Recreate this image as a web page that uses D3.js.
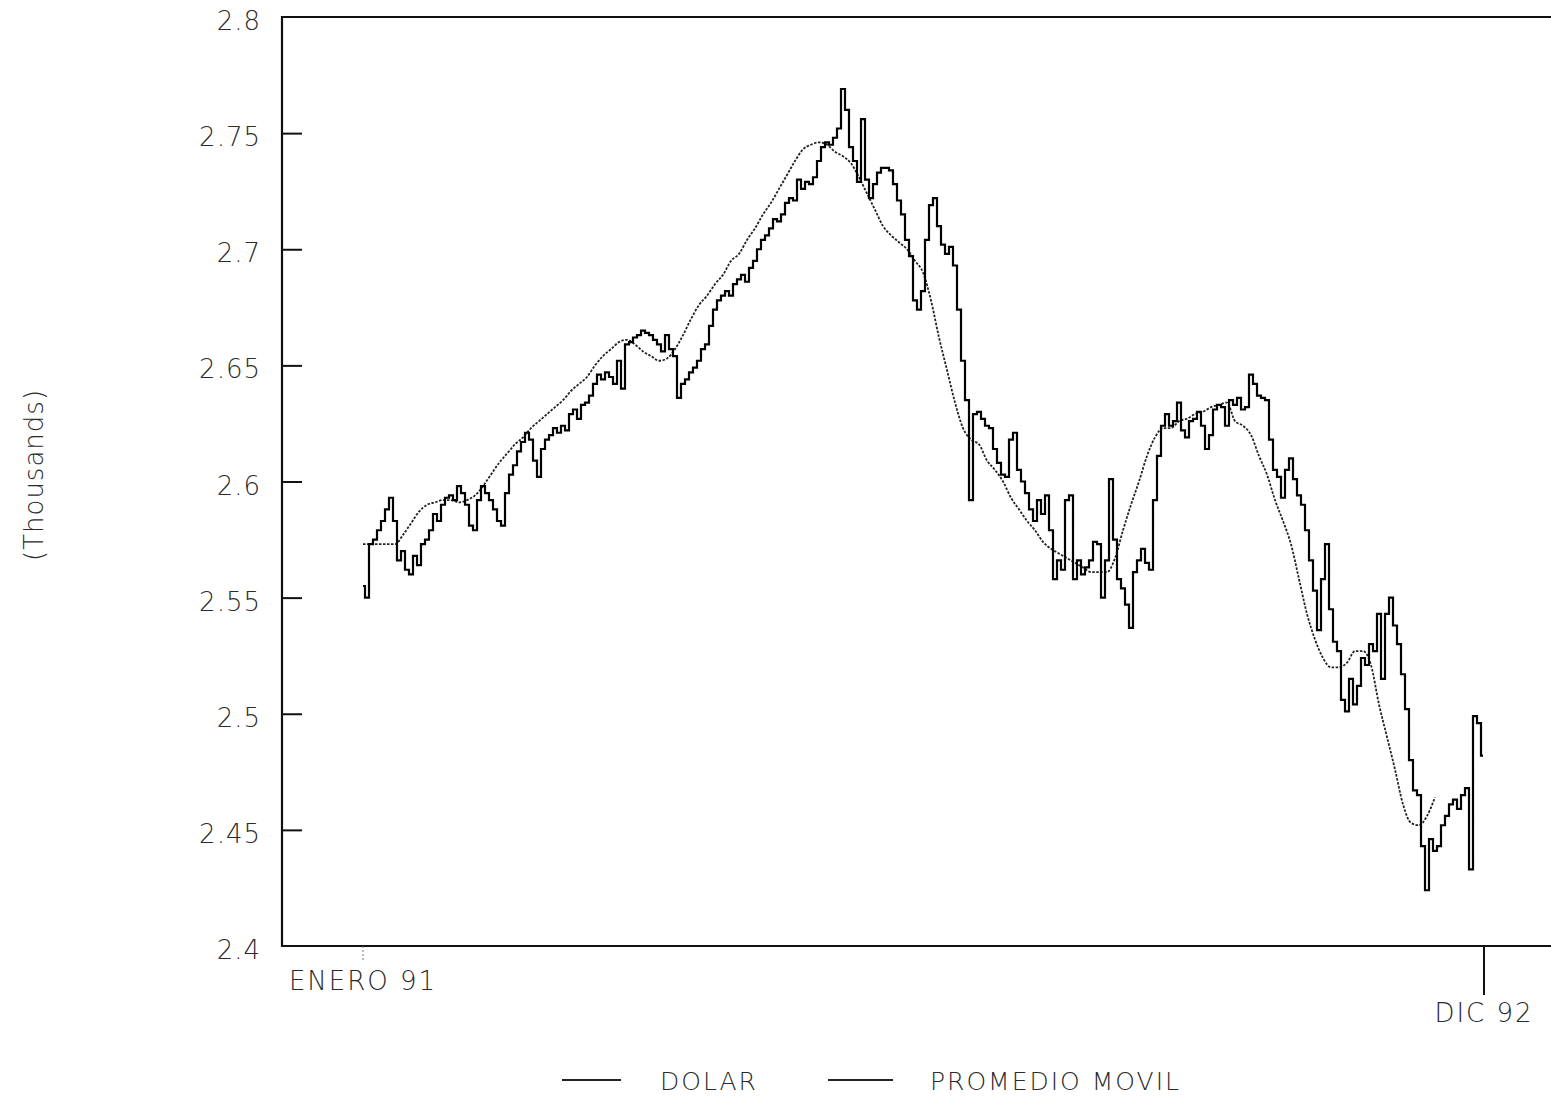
<!DOCTYPE html>
<html><head><meta charset="utf-8">
<script src="https://cdn.jsdelivr.net/npm/d3@7"></script>
<style>
html,body{margin:0;padding:0;background:#fff;}
svg text{font-family:"DejaVu Sans",sans-serif;font-weight:300;fill:#2a2a2a;}
</style></head>
<body>
<svg id="chart" width="1551" height="1096"></svg>
<script>
// DOLAR daily values (thousands)
const dolar = [2.555,2.550,2.573,2.575,2.579,2.583,2.588,2.593,2.583,2.566,
2.570,2.562,2.560,2.568,2.564,2.573,2.575,2.579,2.586,2.583,
2.590,2.593,2.594,2.592,2.598,2.595,2.590,2.581,2.579,2.592,
2.598,2.595,2.592,2.588,2.583,2.581,2.595,2.603,2.607,2.613,
2.617,2.621,2.618,2.609,2.602,2.614,2.618,2.620,2.623,2.621,
2.624,2.622,2.629,2.631,2.627,2.633,2.634,2.637,2.642,2.646,
2.644,2.647,2.645,2.642,2.652,2.640,2.659,2.660,2.662,2.663,
2.665,2.664,2.663,2.661,2.659,2.656,2.663,2.657,2.654,2.636,
2.642,2.644,2.647,2.649,2.652,2.657,2.659,2.667,2.674,2.678,
2.680,2.682,2.680,2.685,2.687,2.689,2.686,2.692,2.695,2.700,
2.704,2.706,2.709,2.713,2.712,2.715,2.720,2.722,2.721,2.730,
2.726,2.729,2.728,2.731,2.738,2.744,2.746,2.745,2.748,2.752,
2.769,2.760,2.744,2.738,2.729,2.756,2.730,2.722,2.728,2.733,
2.735,2.735,2.734,2.728,2.721,2.715,2.704,2.697,2.678,2.674,
2.682,2.704,2.719,2.722,2.710,2.702,2.698,2.701,2.693,2.674,
2.652,2.635,2.592,2.629,2.630,2.627,2.624,2.623,2.614,2.608,
2.603,2.602,2.618,2.621,2.605,2.600,2.595,2.588,2.583,2.592,
2.586,2.594,2.579,2.558,2.566,2.562,2.592,2.594,2.558,2.566,
2.560,2.563,2.566,2.574,2.573,2.550,2.566,2.601,2.575,2.558,
2.554,2.547,2.537,2.561,2.566,2.571,2.565,2.562,2.592,2.611,
2.624,2.629,2.624,2.626,2.634,2.622,2.619,2.626,2.627,2.630,
2.624,2.614,2.620,2.631,2.633,2.632,2.624,2.635,2.633,2.636,
2.631,2.632,2.646,2.642,2.637,2.636,2.635,2.618,2.605,2.602,
2.593,2.605,2.610,2.601,2.594,2.590,2.579,2.566,2.553,2.536,
2.558,2.573,2.545,2.531,2.527,2.506,2.501,2.515,2.504,2.512,
2.524,2.521,2.530,2.527,2.543,2.515,2.543,2.550,2.538,2.530,
2.517,2.502,2.480,2.467,2.465,2.443,2.424,2.446,2.441,2.443,
2.452,2.456,2.461,2.463,2.459,2.465,2.468,2.433,2.499,2.496,
2.482];

// PROMEDIO MOVIL, sampled every 2nd observation
const promedio = [2.573,2.573,2.573,2.573,2.573,2.577,2.582,2.587,2.590,2.591,
2.592,2.592,2.591,2.592,2.594,2.598,2.603,2.608,2.612,2.616,
2.619,2.623,2.626,2.629,2.632,2.635,2.639,2.642,2.645,2.650,
2.654,2.657,2.660,2.661,2.659,2.656,2.654,2.652,2.653,2.657,
2.663,2.670,2.676,2.680,2.685,2.689,2.695,2.698,2.704,2.709,
2.715,2.720,2.726,2.732,2.738,2.743,2.745,2.746,2.745,2.742,
2.740,2.737,2.731,2.724,2.717,2.710,2.706,2.703,2.700,2.695,
2.690,2.678,2.662,2.648,2.634,2.623,2.618,2.616,2.609,2.605,
2.600,2.593,2.588,2.583,2.579,2.574,2.571,2.569,2.567,2.565,
2.563,2.561,2.561,2.561,2.567,2.579,2.590,2.600,2.611,2.619,
2.623,2.623,2.626,2.627,2.629,2.630,2.632,2.633,2.634,2.626,
2.624,2.620,2.611,2.603,2.592,2.583,2.573,2.558,2.543,2.532,
2.524,2.520,2.520,2.522,2.527,2.527,2.521,2.504,2.490,2.476,
2.461,2.453,2.452,2.456,2.464];
const promedioStep = 2;

const yTicks = [2.4, 2.45, 2.5, 2.55, 2.6, 2.65, 2.7, 2.75, 2.8];
const yTickLabels = ["2.4","2.45","2.5","2.55","2.6","2.65","2.7","2.75","2.8"];
const xTickLabels = ["ENERO 91", "DIC 92"];
const yTitle = "(Thousands)";
const seriesNames = ["DOLAR", "PROMEDIO MOVIL"];

const svg = d3.select("#chart");
const L = 282, T = 17, R = 1551, B = 946;
const x = d3.scaleLinear().domain([0, dolar.length - 1]).range([363, 1483]);
const y = d3.scaleLinear().domain([2.4, 2.8]).range([B, T]);

// frame
svg.append("line").attr("x1", L).attr("x2", L).attr("y1", T - 1).attr("y2", B + 1)
  .attr("stroke", "#111").attr("stroke-width", 2.2);
svg.append("line").attr("x1", L).attr("x2", R).attr("y1", T).attr("y2", T)
  .attr("stroke", "#111").attr("stroke-width", 2.2);
svg.append("line").attr("x1", L).attr("x2", R).attr("y1", B).attr("y2", B)
  .attr("stroke", "#111").attr("stroke-width", 2.2);

// y axis ticks (inward) and labels
const yAxis = d3.axisRight(y).tickValues(yTicks.slice(1, -1)).tickSize(20).tickFormat("");
const ya = svg.append("g").attr("transform", `translate(${L},0)`).call(yAxis);
ya.select(".domain").remove();
ya.selectAll(".tick line").attr("stroke", "#111").attr("stroke-width", 2);

svg.append("g").selectAll("text").data(yTicks).join("text")
  .attr("x", 261).attr("y", d => y(d) + 13)
  .attr("text-anchor", "end").attr("font-size", 26).attr("letter-spacing", 1)
  .text((d, i) => yTickLabels[i]);

// x ticks
const xTicksIdx = [0, dolar.length - 1];
svg.append("line").attr("x1", x(xTicksIdx[0])).attr("x2", x(xTicksIdx[0]))
  .attr("y1", B).attr("y2", B + 14).attr("stroke", "#777").attr("stroke-width", 1)
  .attr("stroke-dasharray", "2,2");
svg.append("line").attr("x1", x(xTicksIdx[1]) + 1).attr("x2", x(xTicksIdx[1]) + 1)
  .attr("y1", B).attr("y2", B + 49).attr("stroke", "#111").attr("stroke-width", 2);
svg.append("text").attr("x", x(xTicksIdx[0])).attr("y", 990)
  .attr("text-anchor", "middle").attr("font-size", 26).attr("letter-spacing", 2)
  .text(xTickLabels[0]);
svg.append("text").attr("x", x(xTicksIdx[1]) + 1).attr("y", 1022)
  .attr("text-anchor", "middle").attr("font-size", 26).attr("letter-spacing", 2)
  .text(xTickLabels[1]);

// y title
svg.append("text").attr("transform", "translate(43,475) rotate(-90)")
  .attr("text-anchor", "middle").attr("font-size", 26).attr("letter-spacing", 1)
  .text(yTitle);

// series
const line = d3.line().x((d, i) => x(i)).y(d => y(d)).curve(d3.curveStep);
const lineMA = d3.line().x((d, i) => x(i * promedioStep)).y(d => y(d)).curve(d3.curveMonotoneX);

svg.append("path").datum(promedio).attr("d", lineMA)
  .attr("fill", "none").attr("stroke", "#222").attr("stroke-width", 1.8)
  .attr("stroke-dasharray", "2.5,1.5");
svg.append("path").datum(dolar).attr("d", line)
  .attr("fill", "none").attr("stroke", "#000").attr("stroke-width", 2.2);

// legend
const lg = svg.append("g");
lg.append("line").attr("x1", 562).attr("x2", 621).attr("y1", 1080).attr("y2", 1080)
  .attr("stroke", "#222").attr("stroke-width", 1.8);
lg.append("text").attr("x", 660).attr("y", 1090).attr("font-size", 25).attr("letter-spacing", 2)
  .text(seriesNames[0]);
lg.append("line").attr("x1", 828).attr("x2", 893).attr("y1", 1080).attr("y2", 1080)
  .attr("stroke", "#222").attr("stroke-width", 1.8);
lg.append("text").attr("x", 930).attr("y", 1090).attr("font-size", 25).attr("letter-spacing", 2)
  .text(seriesNames[1]);
</script>
</body></html>
